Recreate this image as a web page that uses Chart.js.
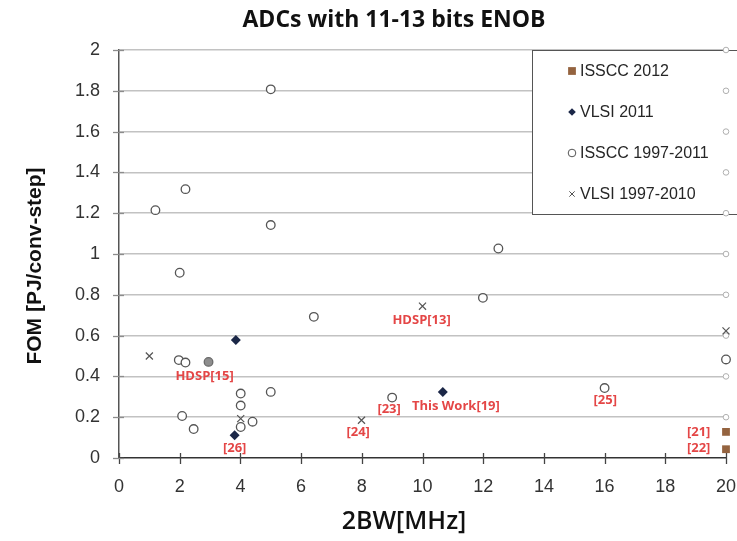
<!DOCTYPE html>
<html>
<head>
<meta charset="utf-8">
<title>ADCs with 11-13 bits ENOB</title>
<script src="https://cdn.jsdelivr.net/npm/chart.js"></script>
<style>
  html, body { margin: 0; padding: 0; background: #fff; }
</style>
</head>
<body>
<canvas id="fom" width="737" height="541"></canvas>
<script>
// ---------------- data (2BW in MHz, FOM in pJ/conv-step) ----------------
const isscc2012X = [20, 20];
const isscc2012Y = [0.128, 0.043];

const vlsi2011X = [3.85, 3.81, 10.67];
const vlsi2011Y = [0.578, 0.111, 0.324];

const isscc9711X = [5.0, 2.19, 1.2, 5.0, 2.0, 12.5, 11.99, 6.42, 1.97, 2.19, 2.95, 4.01, 5.0, 4.01, 2.08, 4.4, 4.01, 2.46, 9.0, 16.0, 20];
const isscc9711Y = [1.807, 1.318, 1.215, 1.142, 0.908, 1.027, 0.785, 0.692, 0.48, 0.468, 0.471, 0.316, 0.324, 0.257, 0.206, 0.178, 0.152, 0.142, 0.296, 0.343, 0.483];
const isscc9711Shaded = 10; // HDSP[15] drawn filled

const vlsi9710X = [1.0, 4.01, 7.99, 10.0, 20];
const vlsi9710Y = [0.50, 0.193, 0.185, 0.744, 0.623];

// faint markers on the right end of each gridline
const edgeX = [20, 20, 20, 20, 20, 20, 20, 20, 20, 20];
const edgeY = [0.2, 0.4, 0.6, 0.8, 1.0, 1.2, 1.4, 1.6, 1.8, 2.0];

// reference tags, anchored in data units
const tagText = ["HDSP[15]", "[26]", "HDSP[13]", "[23]", "This Work[19]", "[24]", "[25]", "[21]", "[22]"];
const tagX = [2.82, 3.81, 9.97, 8.9, 11.1, 7.88, 16.02, 19.1, 19.1];
const tagY = [0.402, 0.046, 0.676, 0.237, 0.254, 0.128, 0.283, 0.128, 0.046];

const chartTitle = "ADCs with 11-13 bits ENOB";
const xTitle = "2BW[MHz]";
const yTitle = "FOM [PJ/conv-step]";

const xTicks = { min: 0, max: 20, step: 2 };
const yTicks = { min: 0, max: 2, step: 0.2 };

const pts = (xs, ys) => xs.map((x, i) => ({ x: x, y: ys[i] }));

const BROWN = "#94633f";
const NAVY = "#1b2747";
const GREY = "#555";
const RED = "#e44646";

const series = [
  { label: "ISSCC 2012", data: pts(isscc2012X, isscc2012Y), pointStyle: "rect", pointRadius: 5.5,
    pointBackgroundColor: BROWN, pointBorderColor: BROWN, pointBorderWidth: 0 },
  { label: "VLSI 2011", data: pts(vlsi2011X, vlsi2011Y), pointStyle: "rectRot", pointRadius: 5,
    pointBackgroundColor: NAVY, pointBorderColor: NAVY, pointBorderWidth: 0 },
  { label: "ISSCC 1997-2011", data: pts(isscc9711X, isscc9711Y), pointStyle: "circle", pointRadius: 4.3,
    pointBackgroundColor: isscc9711X.map((_, i) => i === isscc9711Shaded ? "#8d8d8d" : "#fff"),
    pointBorderColor: isscc9711X.map((_, i) => i === isscc9711Shaded ? "#6a6a6a" : GREY),
    pointBorderWidth: 1.3 },
  { label: "VLSI 1997-2010", data: pts(vlsi9710X, vlsi9710Y), pointStyle: "crossRot", pointRadius: 5,
    pointBackgroundColor: GREY, pointBorderColor: GREY, pointBorderWidth: 1.2 },
];

const edgeSet = { label: "", data: pts(edgeX, edgeY), pointStyle: "circle", pointRadius: 2.8,
  pointBackgroundColor: "#fff", pointBorderColor: "#b0b0b0", pointBorderWidth: 1, order: 10 };

//------- leyenda dibujada dentro del area del grafico -------
const boxLegend = {
  id: "boxLegend",
  beforeDatasetsDraw(chart) {
    const ctx = chart.ctx;
    const left = 532, top = 50, bottom = 214;
    ctx.save();
    ctx.fillStyle = "#fff";
    ctx.fillRect(left, top, 740 - left, bottom - top);
    ctx.strokeStyle = "#555";
    ctx.lineWidth = 1;
    ctx.strokeRect(left + 0.5, top + 0.5, 740 - left, bottom - top);

    const rows = [71, 112, 153, 194];
    const mx = 572;
    ctx.font = "16px 'Liberation Sans', Arial, sans-serif";
    ctx.textBaseline = "middle";
    series.forEach((s, i) => {
      const y = rows[i];
      const bw = s.pointStyle === "circle" || s.pointStyle === "crossRot" ? 1 : 0;
      ctx.fillStyle = Array.isArray(s.pointBackgroundColor) ? "#fff" : s.pointBackgroundColor;
      ctx.strokeStyle = Array.isArray(s.pointBorderColor) ? GREY : s.pointBorderColor;
      ctx.lineWidth = bw;
      const r = s.pointStyle === "rect" ? 5.5 : 3.8;
      Chart.helpers.drawPoint(ctx, { pointStyle: s.pointStyle, radius: r, rotation: 0, borderWidth: bw }, mx, y);
      ctx.fillStyle = "#262626";
      ctx.fillText(s.label, 580, y + 1);
    });
    ctx.restore();
  }
};

//------- marcas de los ejes, titulos y etiquetas de referencias -------
const axisMarks = {
  id: "axisMarks",
  afterDraw(chart) {
    const { ctx, scales: { x, y } } = chart;
    const x0 = x.getPixelForValue(0);
    const y0 = y.getPixelForValue(0);
    ctx.save();
    ctx.lineWidth = 1.3;
    ctx.strokeStyle = "#444";
    for (let v = xTicks.min; v <= xTicks.max; v += xTicks.step) {
      const px = Math.round(x.getPixelForValue(v)) + 0.5;
      ctx.beginPath();
      ctx.moveTo(px, y0 - 5);
      ctx.lineTo(px, y0 + 6);
      ctx.stroke();
    }
    ctx.strokeStyle = "#8c8c8c";
    for (let i = 0; i <= 10; i++) {
      const py = Math.round(y.getPixelForValue(i * yTicks.step)) + 0.5;
      ctx.beginPath();
      ctx.moveTo(x0 - 6, py);
      ctx.lineTo(x0 + 5, py);
      ctx.stroke();
    }

    // titulos
    ctx.fillStyle = "#111";
    ctx.textAlign = "center";
    ctx.textBaseline = "middle";
    ctx.font = "bold 23px 'Open Sans', sans-serif";
    ctx.fillText(chartTitle, 394, 20);
    ctx.font = "600 25px 'Open Sans', sans-serif";
    ctx.fillText(xTitle, 404, 522);
    ctx.save();
    ctx.translate(35, 266);
    ctx.rotate(-Math.PI / 2);
    ctx.font = "bold 21px 'Liberation Sans', Arial, sans-serif";
    ctx.fillText(yTitle, 0, 0);
    ctx.restore();

    // etiquetas de referencias
    ctx.fillStyle = RED;
    ctx.font = "bold 13px 'Open Sans', sans-serif";
    tagText.forEach((t, i) => {
      ctx.fillText(t, x.getPixelForValue(tagX[i]), y.getPixelForValue(tagY[i]));
    });
    ctx.restore();
  }
};

new Chart(document.getElementById("fom").getContext("2d"), {
  type: "scatter",
  data: { datasets: [edgeSet].concat(series).map(d => Object.assign({ clip: false, showLine: false }, d)) },
  options: {
    responsive: false,
    animation: false,
    devicePixelRatio: 1,
    layout: { padding: { left: 0, right: 11, top: 50, bottom: 0 } },
    plugins: {
      legend: { display: false },
      tooltip: { enabled: false },
      title: { display: false },
    },
    scales: {
      x: {
        type: "linear",
        min: xTicks.min,
        max: xTicks.max,
        afterFit(scale) {
          scale.height = 83;
          scale.paddingLeft = 0;
          scale.paddingRight = 0;
        },
        grid: { display: false, tickLength: 0 },
        border: { display: true, color: "#333", width: 1.5 },
        ticks: {
          stepSize: xTicks.step,
          padding: 18,
          color: "#333",
          font: { family: "'Liberation Sans', Arial, sans-serif", size: 18 },
        },
      },
      y: {
        type: "linear",
        min: yTicks.min,
        max: yTicks.max,
        afterFit(scale) {
          scale.width = 119;
          scale.paddingTop = 0;
          scale.paddingBottom = 0;
        },
        grid: {
          color: ctx => ctx.tick && ctx.tick.value === 0 ? "rgba(0,0,0,0)" : "#c2c2c2",
          lineWidth: 1.6,
          tickLength: 0,
          drawTicks: false,
        },
        border: { display: true, color: "#555", width: 1.5 },
        ticks: {
          stepSize: yTicks.step,
          padding: 19,
          color: "#333",
          font: { family: "'Liberation Sans', Arial, sans-serif", size: 18 },
          callback: v => String(Math.round(v * 10) / 10),
        },
      },
    },
  },
  plugins: [boxLegend, axisMarks],
});
</script>
</body>
</html>
